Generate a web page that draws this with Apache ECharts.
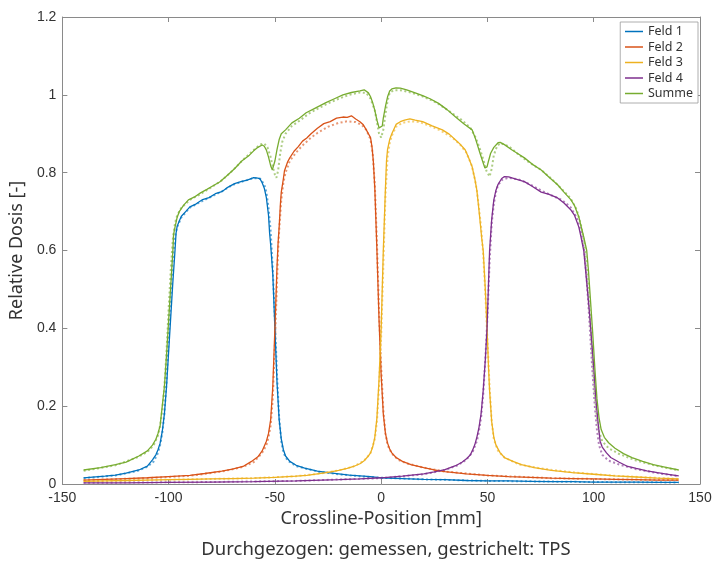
<!DOCTYPE html>
<html><head><meta charset="utf-8">
<script src="https://cdn.jsdelivr.net/npm/echarts@6/dist/echarts.min.js"></script>
<style>html,body{margin:0;padding:0;background:#fff}#c{width:715px;height:561px}</style>
</head><body><div id="c"></div>
<script>
// ---- Data ----
const seriesNames = ['Feld 1','Feld 2','Feld 3','Feld 4','Summe'];
const xTicks = [-150,-100,-50,0,50,100,150];
const yTicks = [0,0.2,0.4,0.6,0.8,1,1.2];

// measured (solid)
const feld1X = [-140,-130,-125,-120,-114,-110,-107.6,-106,-105,-104,-103,-102,-101,-100,-99,-98,-97,-96.5,-96,-95,-94,-92,-90,-87,-84,-81,-78,-75,-72,-69,-66,-63,-60,-58,-57,-56,-55,-54,-53,-52.5,-52,-51,-50,-49,-48,-47,-46,-45,-43,-40,-36,-30,-25,-20,-15,-10,-5,0,10,20,30,40,50,60,70,80,90,100,110,120,130,140];
const feld1Y = [0.016,0.02,0.023,0.028,0.036,0.046,0.062,0.075,0.088,0.105,0.135,0.18,0.25,0.34,0.43,0.52,0.6,0.645,0.662,0.676,0.688,0.7,0.712,0.72,0.731,0.736,0.746,0.751,0.763,0.772,0.777,0.781,0.787,0.786,0.784,0.774,0.76,0.735,0.69,0.645,0.615,0.54,0.4,0.26,0.165,0.115,0.088,0.072,0.058,0.048,0.041,0.033,0.029,0.026,0.023,0.021,0.019,0.016,0.014,0.012,0.011,0.009,0.008,0.008,0.007,0.006,0.006,0.005,0.005,0.005,0.004,0.004];

const feld2X = [-140,-130,-120,-110,-100,-90,-83,-75,-70,-65,-61,-58,-56,-54,-53,-52,-51,-50,-49,-48.5,-48,-47.4,-47,-46,-45.5,-44,-43,-41,-39,-37,-35,-33,-30,-27,-24,-21,-18,-16,-14,-12,-10,-8.4,-7,-6,-5,-4.3,-3.7,-3,-2,-1,0,1,2,3,4,5,7,10,14,20,25,30,40,50,60,70,80,90,100,110,120,130,140];
const feld2Y = [0.01,0.012,0.014,0.016,0.019,0.022,0.027,0.033,0.038,0.045,0.058,0.07,0.085,0.11,0.13,0.165,0.25,0.4,0.56,0.62,0.66,0.72,0.75,0.785,0.805,0.828,0.838,0.855,0.867,0.881,0.889,0.9,0.914,0.926,0.931,0.94,0.943,0.942,0.946,0.938,0.931,0.923,0.91,0.9,0.89,0.865,0.83,0.76,0.6,0.42,0.28,0.18,0.13,0.105,0.09,0.08,0.068,0.058,0.05,0.042,0.036,0.032,0.026,0.022,0.019,0.017,0.015,0.014,0.013,0.012,0.011,0.01,0.01];

const feld3X = [-140,-130,-120,-110,-100,-90,-80,-70,-60,-50,-40,-35,-30,-25,-20,-16,-13,-10,-8,-6,-5,-4,-3,-2,-1,0,1,2,2.5,3,4,5,7,9,11,13.5,16,19.5,24,28.8,32,35,37,39.5,41,42.8,44.2,45,46,47.4,48,49,49.8,50.5,51,52,53,54,56,58,62,66,72,80,90,100,110,120,130,140];
const feld3Y = [0.007,0.008,0.009,0.01,0.011,0.012,0.013,0.014,0.015,0.017,0.02,0.022,0.026,0.03,0.035,0.04,0.045,0.052,0.06,0.072,0.08,0.095,0.12,0.17,0.27,0.4,0.6,0.76,0.83,0.86,0.885,0.9,0.924,0.931,0.935,0.938,0.935,0.931,0.92,0.91,0.899,0.884,0.874,0.859,0.84,0.815,0.78,0.755,0.704,0.627,0.6,0.5,0.4,0.3,0.24,0.16,0.12,0.1,0.08,0.068,0.058,0.05,0.042,0.035,0.029,0.025,0.021,0.018,0.015,0.013];

const feld4X = [-140,-120,-100,-80,-60,-40,-20,-10,0,10,20,25,30,35,38,40,42,43,44,45,46,47,48,49,49.8,50.4,51,52,53,54,55,56.7,58,60,63,67.4,71,75.3,79,83,86,89.3,91,93,94,95.3,96,97,98,99,100,101,102,103,104,106,108,112,116,120,125,130,135,140];
const feld4Y = [0.003,0.003,0.004,0.005,0.006,0.008,0.011,0.013,0.016,0.02,0.026,0.031,0.037,0.047,0.056,0.064,0.075,0.087,0.1,0.12,0.145,0.18,0.24,0.32,0.4,0.5,0.6,0.68,0.73,0.755,0.77,0.785,0.79,0.789,0.784,0.777,0.765,0.75,0.744,0.735,0.722,0.704,0.69,0.66,0.635,0.6,0.56,0.5,0.44,0.37,0.3,0.22,0.16,0.11,0.095,0.08,0.068,0.056,0.045,0.04,0.034,0.029,0.025,0.021];

const summeX = [-140,-132,-125,-120,-114,-110,-107.6,-106,-105,-104,-103.7,-103,-102,-101,-100,-99,-98,-97.7,-97,-96,-95,-93,-90.7,-88,-85,-82,-79.5,-76,-73,-69,-65.6,-62,-60,-58,-56,-55,-54,-53,-52,-51.2,-50.5,-50,-49,-48,-47,-45,-42,-38.5,-35.3,-31,-26,-22,-18,-14,-10,-8,-6,-5,-4,-3,-2,-1,-0.3,0.5,1,2,3,4,5,7,9,12,16,19.5,23,27,31,35,39,42.8,44.5,46.5,48,48.8,49.8,50.5,51.5,53,55,56,58,61.4,64,67.4,71,75.3,79,83,86,89.3,91,93,95.3,96.7,97.5,98.5,99.5,100.5,101.5,102.5,103.5,105,107,110,114,118,123,128,134,140];
const summeY = [0.036,0.042,0.05,0.056,0.072,0.085,0.1,0.115,0.13,0.15,0.165,0.2,0.25,0.33,0.42,0.51,0.6,0.64,0.66,0.685,0.7,0.716,0.73,0.737,0.748,0.757,0.765,0.776,0.79,0.81,0.83,0.845,0.856,0.865,0.871,0.868,0.858,0.84,0.818,0.807,0.812,0.83,0.86,0.885,0.9,0.91,0.928,0.94,0.954,0.966,0.98,0.99,1.0,1.006,1.01,1.013,1.005,0.995,0.98,0.96,0.935,0.915,0.91,0.92,0.94,0.97,0.995,1.01,1.015,1.018,1.017,1.013,1.005,0.998,0.99,0.978,0.962,0.943,0.925,0.91,0.885,0.85,0.825,0.812,0.815,0.83,0.85,0.865,0.877,0.878,0.872,0.859,0.85,0.838,0.822,0.807,0.788,0.769,0.75,0.73,0.715,0.686,0.635,0.6,0.55,0.47,0.39,0.3,0.22,0.17,0.14,0.12,0.106,0.092,0.078,0.068,0.058,0.05,0.043,0.036];

// TPS (dotted)
const tps1X = [-140,-125,-115,-110,-107,-105,-104,-103,-102,-101,-100,-99,-98,-97,-96,-94,-90,-85,-80,-75,-70,-65,-60,-57,-55,-54,-53,-52,-51,-50,-49,-48,-47,-46,-44,-40,-30,-20,-10,0,20,50,100,140];
const tps1Y = [0.015,0.022,0.033,0.044,0.058,0.08,0.1,0.13,0.18,0.26,0.37,0.48,0.58,0.635,0.66,0.685,0.71,0.725,0.738,0.752,0.768,0.778,0.786,0.785,0.77,0.75,0.71,0.65,0.55,0.42,0.28,0.17,0.11,0.08,0.06,0.046,0.032,0.025,0.02,0.016,0.012,0.008,0.005,0.004];

const tps2X = [-140,-110,-90,-75,-65,-60,-56,-54,-53,-52,-51,-50,-49,-48.5,-48,-47,-46,-45,-43,-40,-37,-33,-30,-25,-20,-16,-12,-9,-7,-5,-4,-3,-2,-1,0,1,2,3,5,8,12,20,30,50,80,110,140];
const tps2Y = [0.01,0.015,0.021,0.032,0.044,0.056,0.08,0.1,0.12,0.15,0.22,0.36,0.52,0.6,0.65,0.73,0.775,0.8,0.83,0.852,0.87,0.89,0.902,0.918,0.928,0.932,0.93,0.922,0.91,0.885,0.85,0.77,0.62,0.44,0.3,0.19,0.13,0.1,0.078,0.062,0.053,0.042,0.032,0.022,0.015,0.012,0.01];

const tps3X = [-140,-100,-60,-40,-30,-20,-13,-8,-5,-3,-2,-1,0,1,2,3,4,5,7,10,14,18,22,28,33,37,40,42.5,44,45,46,47,48,49,50,51,52,53,55,58,65,75,90,110,140];
const tps3Y = [0.007,0.011,0.015,0.02,0.026,0.035,0.045,0.06,0.08,0.115,0.16,0.25,0.38,0.56,0.74,0.84,0.875,0.895,0.918,0.928,0.932,0.93,0.922,0.908,0.892,0.873,0.852,0.82,0.785,0.755,0.71,0.66,0.59,0.49,0.37,0.25,0.16,0.115,0.085,0.068,0.05,0.04,0.03,0.021,0.013];

const tps4X = [-140,-80,-40,0,20,30,36,40,43,45,46,47,48,49,50,51,52,53,54,55,57,60,65,70,75,80,85,89,92,94,95.5,96.5,97.5,98.5,99.5,100.5,101.5,102.5,104,107,112,120,130,140];
const tps4Y = [0.003,0.005,0.008,0.015,0.025,0.036,0.048,0.062,0.082,0.11,0.135,0.17,0.23,0.32,0.43,0.57,0.67,0.72,0.75,0.768,0.782,0.787,0.782,0.77,0.755,0.742,0.73,0.712,0.685,0.65,0.6,0.54,0.46,0.37,0.28,0.2,0.14,0.1,0.075,0.06,0.05,0.038,0.028,0.02];

const tpsSX = [-140,-125,-115,-110,-107,-105,-104,-103,-102,-101,-100,-99,-98,-97,-96,-94,-90,-85,-80,-75,-70,-65,-60,-57,-55,-53.5,-52,-51,-50,-49.3,-48.5,-47.5,-46.5,-45,-42,-38,-34,-30,-25,-20,-15,-10,-7,-5,-3,-2,-1,0,1,2,3,4,6,9,14,20,26,32,38,42,44.5,46.5,48,49.5,51,52,53,54.5,56,60,65,70,75,80,85,89,92,94,95.5,96.5,97.5,98.5,99.5,100.5,101.5,102.5,104,107,112,120,130,140];
const tpsSY = [0.034,0.048,0.068,0.082,0.1,0.125,0.15,0.19,0.25,0.34,0.45,0.55,0.63,0.67,0.69,0.71,0.73,0.745,0.762,0.78,0.805,0.833,0.858,0.872,0.875,0.865,0.84,0.815,0.795,0.787,0.805,0.85,0.88,0.9,0.92,0.935,0.952,0.964,0.978,0.99,1.0,1.006,1.005,0.99,0.96,0.93,0.9,0.89,0.91,0.95,0.985,1.005,1.012,1.012,1.006,0.995,0.98,0.958,0.935,0.915,0.89,0.86,0.835,0.805,0.79,0.81,0.845,0.868,0.876,0.868,0.845,0.825,0.808,0.785,0.758,0.735,0.705,0.665,0.62,0.57,0.5,0.41,0.32,0.23,0.17,0.135,0.11,0.092,0.077,0.06,0.046,0.035];

// ---- Build chart ----
const colors = ['#0072BD','#D95319','#EDB120','#7E2F8E','#77AC30'];
const measX = [feld1X, feld2X, feld3X, feld4X, summeX];
const measY = [feld1Y, feld2Y, feld3Y, feld4Y, summeY];
const tpsX = [tps1X, tps2X, tps3X, tps4X, tpsSX];
const tpsY = [tps1Y, tps2Y, tps3Y, tps4Y, tpsSY];
const zip = (xs, ys) => xs.map((x, i) => [x, ys[i]]);

const series = [];
seriesNames.forEach((n, i) => {
  series.push({
    name: n + ' TPS', type: 'line', data: zip(tpsX[i], tpsY[i]), symbol: 'none',
    lineStyle: { color: colors[i], width: 2, type: [2, 2.5], opacity: 0.6 },
    itemStyle: { color: colors[i] }, z: 2, silent: true
  });
});
seriesNames.forEach((n, i) => {
  series.push({
    name: n, type: 'line', data: zip(measX[i], measY[i]), symbol: 'none',
    lineStyle: { color: colors[i], width: 1.3 }, itemStyle: { color: colors[i] }, z: 3
  });
});

const axisGray = '#8a8a8a';
const labelStyle = { color: '#333', fontSize: 14, fontFamily: 'Liberation Sans' };
const chart = echarts.init(document.getElementById('c'), null, { renderer: 'canvas' });
chart.setOption({
  animation: false,
  backgroundColor: '#fff',
  grid: { left: 55, right: 15, top: 17, bottom: 77 },
  legend: {
    data: seriesNames, orient: 'vertical', right: 17, top: 22,
    itemWidth: 18, itemHeight: 14, itemGap: 2.5, padding: [3, 5, 3, 4],
    itemStyle: { opacity: 0 },
    lineStyle: { width: 1.5 },
    backgroundColor: '#fff', borderColor: '#999', borderWidth: 0.8, borderRadius: 0,
    textStyle: { fontSize: 12.5, color: '#333', fontFamily: 'Noto Sans' }
  },
  xAxis: [{
    type: 'value', min: xTicks[0], max: xTicks[xTicks.length - 1], interval: 50,
    axisLine: { show: true, onZero: false, lineStyle: { color: axisGray } },
    axisTick: { inside: true, length: 5, lineStyle: { color: axisGray } },
    splitLine: { show: false },
    axisLabel: Object.assign({ margin: 7 }, labelStyle),
    name: 'Crossline-Position [mm]', nameLocation: 'middle', nameGap: 26,
    nameTextStyle: { fontSize: 18, color: '#333', fontFamily: 'Noto Sans' }
  }, {
    type: 'value', position: 'top', min: xTicks[0], max: xTicks[xTicks.length - 1], interval: 50,
    axisLine: { show: true, onZero: false, lineStyle: { color: axisGray } },
    axisTick: { inside: true, length: 5, lineStyle: { color: axisGray } },
    splitLine: { show: false }, axisLabel: { show: false }
  }],
  yAxis: [{
    type: 'value', min: yTicks[0], max: yTicks[yTicks.length - 1], interval: 0.2,
    axisLine: { show: true, onZero: false, lineStyle: { color: axisGray } },
    axisTick: { inside: true, length: 5, lineStyle: { color: axisGray } },
    splitLine: { show: false },
    axisLabel: Object.assign({ margin: 6 }, labelStyle),
    name: 'Relative Dosis [-]', nameLocation: 'middle', nameGap: 28,
    nameTextStyle: { fontSize: 18, color: '#333', fontFamily: 'Noto Sans' }
  }, {
    type: 'value', position: 'right', min: yTicks[0], max: yTicks[yTicks.length - 1], interval: 0.2,
    axisLine: { show: true, onZero: false, lineStyle: { color: axisGray } },
    axisTick: { inside: true, length: 5, lineStyle: { color: axisGray } },
    splitLine: { show: false }, axisLabel: { show: false }
  }],
  graphic: [{
    type: 'text', x: 386, y: 550,
    style: { text: 'Durchgezogen: gemessen, gestrichelt: TPS', fill: '#333', fontSize: 18.5,
      fontFamily: 'Noto Sans', textAlign: 'center', textVerticalAlign: 'middle' }
  }],
  series: series
});
</script></body></html>
